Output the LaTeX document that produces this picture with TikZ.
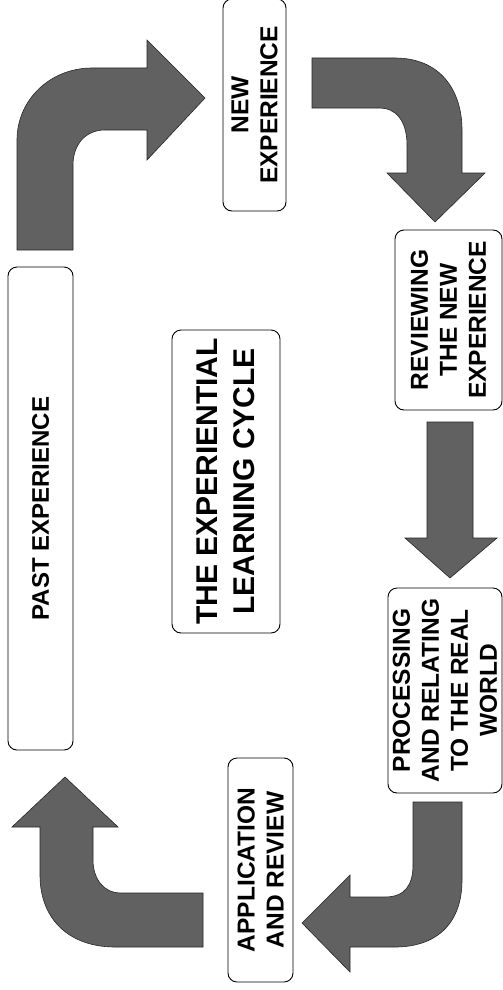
\documentclass[tikz,border=0pt]{standalone}
\usepackage{fontspec}
\setmainfont{Liberation Sans}
\begin{document}
\begin{tikzpicture}[x=1pt,y=-1pt,
  box/.style={draw=black, line width=0.9pt, rounded corners=9pt, rotate=90, inner sep=0pt, align=center, fill=white},
  lbl/.style={font=\fontsize{24.5}{29}\selectfont\bfseries},
  plbl/.style={font=\fontsize{24}{29}\selectfont\bfseries},
  ttl/.style={font=\fontsize{30}{37}\selectfont\bfseries},
  bigarrow/.style={fill=black!62, draw=black!85, line width=0.6pt, line join=miter}]
\useasboundingbox (0,0) rectangle (503,990);

% boxes: minimum width = vertical extent, minimum height = horizontal extent (rotated)
\node[box, lbl, minimum width=212pt, minimum height=63pt] (new) at (254.5,105) {NEW\\EXPERIENCE};
\node[box, lbl, minimum width=180pt, minimum height=107pt] (rev) at (448.5,320) {REVIEWING\\THE NEW\\EXPERIENCE};
\node[box, lbl, minimum width=205pt, minimum height=114pt] (proc) at (445,690.5) {PROCESSING\\AND RELATING\\TO THE REAL\\WORLD};
\node[box, lbl, minimum width=224pt, minimum height=65pt] (app) at (260.5,870) {APPLICATION\\AND REVIEW};
\node[box, plbl, minimum width=483pt, minimum height=65pt] (past) at (40.5,508.5) {PAST EXPERIENCE};
\node[box, ttl, minimum width=303pt, minimum height=108pt] (title) at (226,481.5) {THE EXPERIENTIAL\\LEARNING CYCLE};

% arrow 1: past -> new
\path[bigarrow] (17,250) -- (17,140) .. controls (17,100) and (50,68) .. (92,68)
  -- (147,68) -- (147,40) -- (205,98) -- (147,160) -- (147,130) -- (105,130)
  .. controls (85,130) and (73,145) .. (73,165) -- (73,250) -- cycle;

% arrow 2: new -> reviewing
\path[bigarrow] (312,58) -- (395,58) .. controls (440,58) and (462,90) .. (462,130)
  -- (462,173) -- (485,173) -- (435,222) -- (387,173) -- (407,173) -- (407,145)
  .. controls (407,120) and (395,108) .. (380,108) -- (312,108) -- cycle;

% arrow 3: reviewing -> processing
\path[bigarrow] (427,422) -- (473,422) -- (473,538) -- (497,538) -- (450,578)
  -- (405,538) -- (427,538) -- cycle;

% arrow 4: processing -> application
\path[bigarrow] (413,802) -- (462,802) -- (462,880) .. controls (462,925) and (435,947) .. (395,947)
  -- (350,947) -- (350,972) -- (302,923) -- (350,875) -- (350,897) -- (385,897)
  .. controls (405,897) and (413,885) .. (413,865) -- cycle;

% arrow 5: application -> past
\path[bigarrow] (203,893) -- (203,947) -- (115,947) .. controls (70,947) and (40,920) .. (40,875)
  -- (40,827) -- (12,827) -- (65,777) -- (118,827) -- (93,827) -- (93,860)
  .. controls (93,880) and (105,893) .. (120,893) -- cycle;
\end{tikzpicture}
\end{document}
